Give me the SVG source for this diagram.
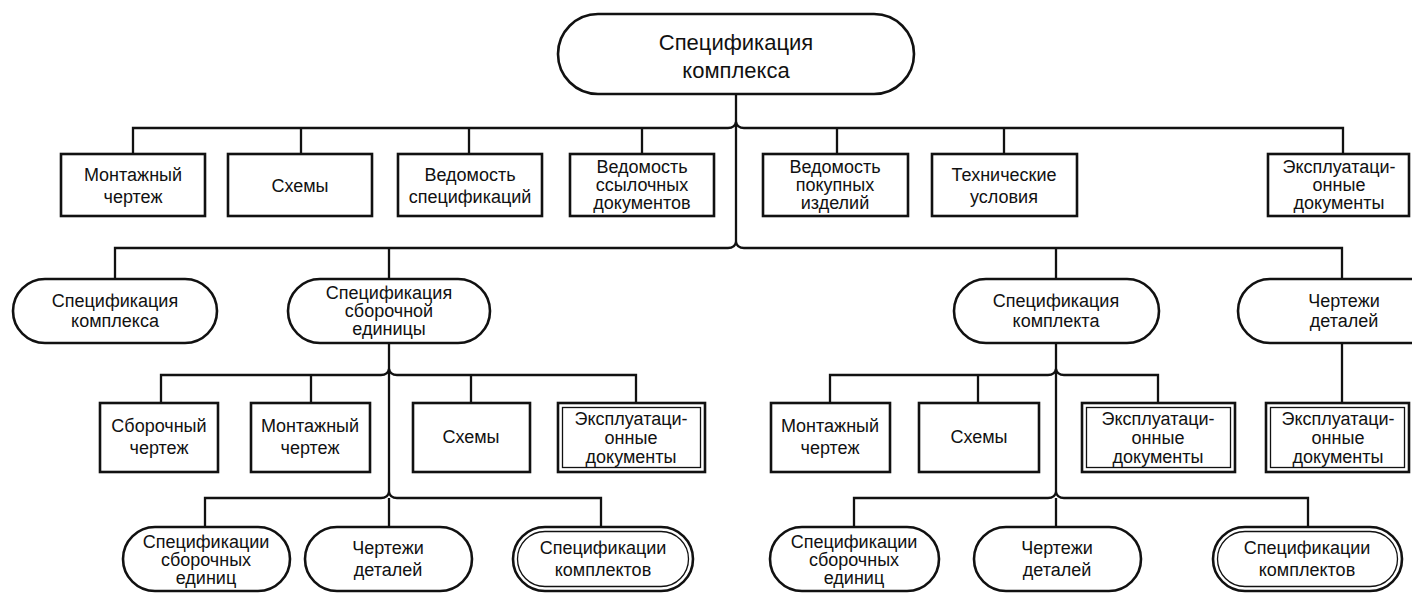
<svg xmlns="http://www.w3.org/2000/svg" width="1412" height="594" viewBox="0 0 1412 594">
<style>
  .n { fill: #fff; stroke: #111; stroke-width: 2.6; }
  .in { fill: none; stroke: #111; stroke-width: 1.3; }
  .c { fill: none; stroke: #111; stroke-width: 2.3; stroke-linejoin: miter; }
  text { font-family: "Liberation Sans", Arial, sans-serif; font-size: 18px; fill: #111; text-anchor: middle; }
  .big { font-size: 22px; }
</style>
<rect width="1412" height="594" fill="#fff"/>
<g id="connectors">
  <path class="c" d="M736 93 V242"/>
  <path class="c" d="M133 154 V128 H728 Q735 128 736 122 Q737 128 744 128 H1343 V154"/>
  <path class="c" d="M301 128 V154 M469 128 V154 M642 128 V154 M837 128 V154 M1004 128 V154"/>
  <path class="c" d="M115 279 V248 H728 Q735 248 736 242 Q737 248 744 248 H1342 V279"/>
  <path class="c" d="M389 248 V279 M1056 248 V279"/>
  <path class="c" d="M389 343 V492"/>
  <path class="c" d="M161 403 V375 H381 Q388 375 389 369 Q390 375 397 375 H636 V403"/>
  <path class="c" d="M311 375 V403 M471 375 V403"/>
  <path class="c" d="M205 527 V498 H381 Q388 498 389 492 Q390 498 397 498 H601 V527"/>
  <path class="c" d="M389 498 V527"/>
  <path class="c" d="M1056 343 V492"/>
  <path class="c" d="M830 403 V375 H1048 Q1055 375 1056 369 Q1057 375 1064 375 H1158 V403"/>
  <path class="c" d="M978 375 V403"/>
  <path class="c" d="M854 527 V498 H1048 Q1055 498 1056 492 Q1057 498 1064 498 H1308 V527"/>
  <path class="c" d="M1056 498 V527"/>
  <path class="c" d="M1342 343 V403"/>
</g>

<g id="root">
  <rect class="n" x="558" y="14" width="356" height="80" rx="40"/>
  <text class="big" x="736" y="50">Спецификация</text>
  <text class="big" x="736" y="78">комплекса</text>
</g>

<g id="l1-montazh">
  <rect class="n" x="61" y="154" width="144" height="62"/>
  <text x="133" y="181">Монтажный</text><text x="133" y="203">чертеж</text>
</g>
<g id="l1-shemy">
  <rect class="n" x="228" y="154" width="144" height="62"/>
  <text x="300" y="192">Схемы</text>
</g>
<g id="l1-ved-spec">
  <rect class="n" x="398" y="154" width="144" height="62"/>
  <text x="470" y="181">Ведомость</text><text x="470" y="203">спецификаций</text>
</g>
<g id="l1-ved-ssyl">
  <rect class="n" x="570" y="154" width="144" height="62"/>
  <text x="642" y="173">Ведомость</text><text x="642" y="191">ссылочных</text><text x="642" y="209">документов</text>
</g>
<g id="l1-ved-pok">
  <rect class="n" x="763" y="154" width="145" height="62"/>
  <text x="835" y="173">Ведомость</text><text x="835" y="191">покупных</text><text x="835" y="209">изделий</text>
</g>
<g id="l1-tech">
  <rect class="n" x="932" y="154" width="145" height="62"/>
  <text x="1004" y="181">Технические</text><text x="1004" y="203">условия</text>
</g>
<g id="l1-expl">
  <rect class="n" x="1268" y="154" width="141" height="62"/>
  <text x="1339" y="173">Эксплуатаци-</text><text x="1339" y="191">онные</text><text x="1339" y="209">документы</text>
</g>

<g id="l2-spec-kompleksa">
  <rect class="n" x="13" y="279" width="204" height="64" rx="32"/>
  <text x="115" y="307">Спецификация</text><text x="115" y="327">комплекса</text>
</g>
<g id="l2-spec-sb">
  <rect class="n" x="288" y="279" width="202" height="64" rx="32"/>
  <text x="389" y="299">Спецификация</text><text x="389" y="317">сборочной</text><text x="389" y="335">единицы</text>
</g>
<g id="l2-spec-komplekta">
  <rect class="n" x="954" y="279" width="205" height="64" rx="32"/>
  <text x="1056" y="307">Спецификация</text><text x="1056" y="327">комплекта</text>
</g>
<g id="l2-chert-det">
  <rect class="n" x="1238" y="279" width="220" height="64" rx="32"/>
  <text x="1344" y="307">Чертежи</text><text x="1344" y="327">деталей</text>
</g>

<g id="l3-sb-chert">
  <rect class="n" x="100" y="403" width="118" height="69"/>
  <text x="159" y="432">Сборочный</text><text x="159" y="454">чертеж</text>
</g>
<g id="l3-montazh-l">
  <rect class="n" x="251" y="403" width="119" height="69"/>
  <text x="310" y="432">Монтажный</text><text x="310" y="454">чертеж</text>
</g>
<g id="l3-shemy-l">
  <rect class="n" x="413" y="403" width="117" height="69"/>
  <text x="471" y="443">Схемы</text>
</g>
<g id="l3-expl-l">
  <rect class="n" x="558" y="403" width="147" height="69"/>
  <rect class="in" x="562.5" y="407.5" width="138" height="60"/>
  <text x="631" y="425">Эксплуатаци-</text><text x="631" y="444">онные</text><text x="631" y="463">документы</text>
</g>

<g id="l3-montazh-r">
  <rect class="n" x="771" y="403" width="119" height="69"/>
  <text x="830" y="432">Монтажный</text><text x="830" y="454">чертеж</text>
</g>
<g id="l3-shemy-r">
  <rect class="n" x="919" y="403" width="120" height="69"/>
  <text x="979" y="443">Схемы</text>
</g>
<g id="l3-expl-r">
  <rect class="n" x="1082" y="403" width="153" height="69"/>
  <rect class="in" x="1086.5" y="407.5" width="144" height="60"/>
  <text x="1158" y="425">Эксплуатаци-</text><text x="1158" y="444">онные</text><text x="1158" y="463">документы</text>
</g>
<g id="l3-expl-det">
  <rect class="n" x="1266" y="403" width="143" height="69"/>
  <rect class="in" x="1270.5" y="407.5" width="134" height="60"/>
  <text x="1338" y="425">Эксплуатаци-</text><text x="1338" y="444">онные</text><text x="1338" y="463">документы</text>
</g>

<g id="l4-spec-sb-l">
  <rect class="n" x="123" y="527" width="167" height="64" rx="32"/>
  <text x="206" y="548">Спецификации</text><text x="206" y="566">сборочных</text><text x="206" y="584">единиц</text>
</g>
<g id="l4-chert-l">
  <rect class="n" x="305" y="527" width="167" height="64" rx="32"/>
  <text x="388" y="554">Чертежи</text><text x="388" y="576">деталей</text>
</g>
<g id="l4-spec-kompl-l">
  <rect class="n" x="513" y="527" width="180" height="64" rx="32"/>
  <rect class="in" x="517.5" y="531.5" width="171" height="55" rx="27.5"/>
  <text x="603" y="554">Спецификации</text><text x="603" y="576">комплектов</text>
</g>

<g id="l4-spec-sb-r">
  <rect class="n" x="770" y="527" width="169" height="64" rx="32"/>
  <text x="854" y="548">Спецификации</text><text x="854" y="566">сборочных</text><text x="854" y="584">единиц</text>
</g>
<g id="l4-chert-r">
  <rect class="n" x="974" y="527" width="167" height="64" rx="32"/>
  <text x="1057" y="554">Чертежи</text><text x="1057" y="576">деталей</text>
</g>
<g id="l4-spec-kompl-r">
  <rect class="n" x="1213" y="527" width="189" height="64" rx="32"/>
  <rect class="in" x="1217.5" y="531.5" width="180" height="55" rx="27.5"/>
  <text x="1307" y="554">Спецификации</text><text x="1307" y="576">комплектов</text>
</g>
</svg>
